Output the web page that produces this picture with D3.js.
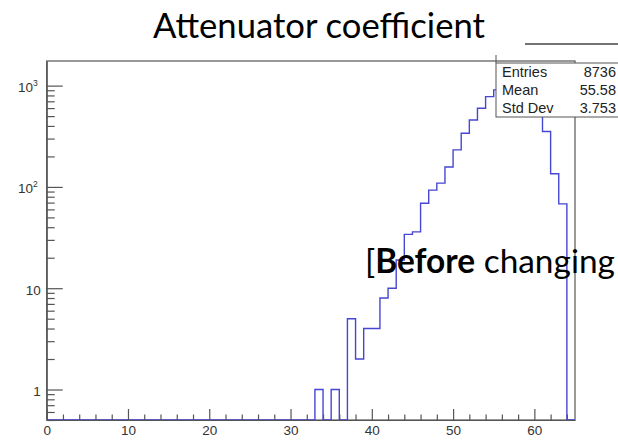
<!DOCTYPE html>
<html>
<head>
<meta charset="utf-8">
<script src="https://cdn.jsdelivr.net/npm/d3@7/dist/d3.min.js"></script>
<style>
  html, body { margin: 0; padding: 0; background: #fff; overflow: hidden; }
  svg { display: block; }
</style>
</head>
<body>
<svg id="chart" width="618" height="440"></svg>
<script>
// Attenuator coefficient histogram: 1-unit bins from 0 to 65, log-scale counts
const binStart = 0;
const binWidth = 1;
const counts = [
  0, 0, 0, 0, 0, 0, 0, 0, 0, 0,          // 0-9
  0, 0, 0, 0, 0, 0, 0, 0, 0, 0,          // 10-19
  0, 0, 0, 0, 0, 0, 0, 0, 0, 0,          // 20-29
  0, 0, 0, 1, 0, 1, 0, 5, 2, 4,          // 30-39
  4, 8, 10, 19, 34, 36, 69, 93, 109, 157, // 40-49
  232, 339, 458, 598, 778, 907, 1150, 1050, 850, 700, // 50-59
  567, 352, 135, 68, 0                   // 60-64
];
const xDomain = [0, 65];
const yDomain = [0.5, 1750];
const xMajorTicks = [0, 10, 20, 30, 40, 50, 60];
const yMajorTicks = [1, 10, 100, 1000];
const yTickBase = ["1", "10", "10", "10"];
const yTickExp = ["", "", "2", "3"];
const statsLabels = ["Entries", "Mean", "Std Dev"];
const statsValues = ["8736", "55.58", "3.753"];
const titleText = "Attenuator coefficient";
const noteBracket = "[";
const noteBold = "Before";
const noteRest = " changing";

const svg = d3.select("#chart");
const frame = { left: 46.7, right: 575, top: 61, bottom: 420 };
const axisColor = "#555";
const labelFont = "'Liberation Sans', Arial, Helvetica, sans-serif";
const slideFont = "Lato, 'Open Sans', sans-serif";

const x = d3.scaleLinear().domain(xDomain).range([frame.left, frame.right]);
const y = d3.scaleLog().domain(yDomain).range([frame.bottom, frame.top]);

// minor ticks: every 2 units on x, 2..9 per decade on y
const xMinorTicks = d3.range(xDomain[0], xDomain[1] + 1e-9, 2).filter(v => v % 10 !== 0);
const yMinorTicks = [];
[0.1, 1, 10, 100, 1000].forEach(dec => {
  for (let k = 2; k <= 9; k++) {
    const v = k * dec;
    if (v >= yDomain[0] && v <= yDomain[1]) yMinorTicks.push(v);
  }
});

// clip region for the histogram line
svg.append("defs").append("clipPath").attr("id", "frameClip")
  .append("rect")
  .attr("x", frame.left).attr("y", frame.top)
  .attr("width", frame.right - frame.left).attr("height", frame.bottom - frame.top);

// frame box
svg.append("rect")
  .attr("x", frame.left).attr("y", frame.top)
  .attr("width", frame.right - frame.left).attr("height", frame.bottom - frame.top)
  .attr("fill", "none").attr("stroke", axisColor).attr("stroke-width", 1.2);

// histogram outline (empty bins drop to the bottom of the frame)
const yFloor = yDomain[0];
const path = d3.path();
path.moveTo(x(binStart), y(yFloor));
counts.forEach((c, i) => {
  const x0 = x(binStart + i * binWidth);
  const x1 = x(binStart + (i + 1) * binWidth);
  const yc = y(Math.max(c, yFloor));
  path.lineTo(x0, yc);
  path.lineTo(x1, yc);
});
path.lineTo(x(binStart + counts.length * binWidth), y(yFloor));
svg.append("path")
  .attr("d", path.toString())
  .attr("clip-path", "url(#frameClip)")
  .attr("fill", "none")
  .attr("stroke", "#4646d4")
  .attr("stroke-width", 1.4);

// x axis
const gx = svg.append("g").attr("transform", `translate(0,${frame.bottom})`);
gx.call(d3.axisBottom(x).tickValues(xMinorTicks).tickFormat("").tickSize(-5.5).tickSizeOuter(0));
gx.call(g => g.select(".domain").remove());
const gxMajor = svg.append("g").attr("transform", `translate(0,${frame.bottom})`)
  .call(d3.axisBottom(x).tickValues(xMajorTicks).tickFormat(d3.format("d")).tickSize(-11).tickSizeOuter(0).tickPadding(5));
[gx, gxMajor].forEach(g => {
  g.selectAll("line").attr("stroke", axisColor).attr("stroke-width", 1.2);
  g.selectAll(".domain").attr("stroke", axisColor).attr("stroke-width", 1.2);
  g.selectAll("text").attr("fill", "#333").style("font-family", labelFont).style("font-size", "13.5px");
});

// y axis
const gyMinor = svg.append("g").attr("transform", `translate(${frame.left},0)`)
  .call(d3.axisLeft(y).tickValues(yMinorTicks).tickFormat("").tickSize(-8).tickSizeOuter(0));
gyMinor.select(".domain").remove();
const gy = svg.append("g").attr("transform", `translate(${frame.left},0)`)
  .call(d3.axisLeft(y).tickValues(yMajorTicks).tickFormat("").tickSize(-16).tickSizeOuter(0));
[gy, gyMinor].forEach(g => {
  g.selectAll("line").attr("stroke", axisColor).attr("stroke-width", 1.2);
  g.selectAll(".domain").attr("stroke", axisColor).attr("stroke-width", 1.2);
});
gy.selectAll(".tick").each(function(d, i) {
  const t = d3.select(this).append("text")
    .attr("fill", "#333")
    .attr("text-anchor", "end")
    .attr("x", yTickExp[i] ? -9 : -6)
    .attr("y", 6)
    .style("font-family", labelFont)
    .style("font-size", "13.5px");
  t.append("tspan").text(yTickBase[i]);
  if (yTickExp[i]) {
    t.append("tspan").attr("dy", -6).style("font-size", "8.5px").text(yTickExp[i]);
  }
});

// statistics box
const box = { x: 496, y: 63, w: 130, h: 54 };
svg.append("line")
  .attr("x1", box.x).attr("x2", box.x).attr("y1", 55).attr("y2", box.y)
  .attr("stroke", axisColor).attr("stroke-width", 1);
svg.append("rect")
  .attr("x", box.x).attr("y", box.y).attr("width", box.w).attr("height", box.h)
  .attr("fill", "#fff").attr("stroke", axisColor).attr("stroke-width", 1);
const rowY = d3.scalePoint().domain(statsLabels).range([77, 113]);
svg.append("g").selectAll("text.lab").data(statsLabels).join("text")
  .attr("x", box.x + 6).attr("y", d => rowY(d))
  .attr("fill", "#222")
  .style("font-family", labelFont).style("font-size", "14.5px")
  .text(d => d);
svg.append("g").selectAll("text.val").data(statsValues).join("text")
  .attr("x", 616).attr("y", (d, i) => rowY(statsLabels[i]))
  .attr("text-anchor", "end")
  .attr("fill", "#222")
  .style("font-family", labelFont).style("font-size", "14.5px")
  .text(d => d);

// rule at top-right
svg.append("line")
  .attr("x1", 525).attr("x2", 618).attr("y1", 44).attr("y2", 44)
  .attr("stroke", "#444").attr("stroke-width", 1.3);

// title, sized to span its target width
const title = svg.append("text")
  .attr("x", 319).attr("y", 38)
  .attr("text-anchor", "middle")
  .attr("fill", "#000")
  .style("font-family", slideFont).style("font-size", "100px")
  .text(titleText);
const titleW = title.node().getComputedTextLength();
title.style("font-size", (100 * 332 / titleW).toFixed(2) + "px");

// slide note overlapping the plot
const note = svg.append("text")
  .attr("x", 365).attr("y", 273)
  .attr("fill", "#000")
  .style("font-family", slideFont).style("font-size", "100px");
note.append("tspan").text(noteBracket);
note.append("tspan").style("font-weight", "bold").text(noteBold);
note.append("tspan").text(noteRest);
const noteW = note.node().getComputedTextLength();
note.style("font-size", (100 * 250 / noteW).toFixed(2) + "px");
</script>
</body>
</html>
